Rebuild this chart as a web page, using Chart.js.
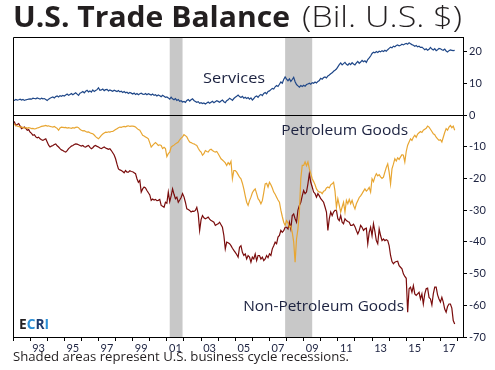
<!DOCTYPE html>
<html>
<head>
<meta charset="utf-8">
<script src="https://cdn.jsdelivr.net/npm/chart.js@4.4.1/dist/chart.umd.min.js"></script>
<style>
  body { margin: 0; background: #fff; }
  #wrap { position: relative; width: 495px; height: 370px; overflow: hidden; }
  .t { position: absolute; top: 0px; font-family: "Open Sans", sans-serif; font-size: 29px; line-height: 31px; color: #231f20; white-space: nowrap; transform-origin: 0 50%; }
  #t1 { left: 13px; font-weight: 700; }
  #t2 { left: 302px; font-weight: 300; }
  #note { position: absolute; left: 13px; top: 348px; font-family: "Open Sans", sans-serif; font-size: 13px; line-height: 17px; color: #231f20; white-space: nowrap; transform-origin: 0 50%; }
  canvas { position: absolute; left: 0; top: 0; }
</style>
</head>
<body>
<div id="wrap">
  <canvas id="mycanvas" width="495" height="370"></canvas>
  <div class="t" id="t1">U.S. Trade Balance</div>
  <div class="t" id="t2">(Bil. U.S. $)</div>
  <div id="note">Shaded areas represent U.S. business cycle recessions.</div>
</div>
<script>
// monthly values, Jan 1992 - Nov 2017, billions of US $
var startYear = 1992;

var services = [
  4.8,4.6,4.9,4.7,4.8,5.0,4.7,4.9,4.6,4.8,4.9,5.0,
  5.1,5.0,5.3,5.2,5.1,5.4,5.2,5.0,5.3,5.1,5.2,4.9,
  4.6,5.0,5.3,5.5,5.7,5.4,5.8,6.0,5.7,6.1,5.9,6.2,
  6.0,6.3,6.6,6.2,6.5,6.8,6.4,6.7,7.0,6.6,6.2,6.9,
  7.1,7.4,7.0,7.5,7.8,7.3,7.6,7.2,7.9,7.4,7.7,8.0,
  8.6,7.8,7.9,8.2,7.7,8.0,8.1,7.6,7.9,7.7,7.5,7.8,
  7.6,7.4,7.7,7.3,7.5,7.1,7.4,7.0,7.2,6.8,7.1,6.9,
  6.6,6.9,6.5,6.8,6.4,6.7,6.9,6.6,6.5,6.8,6.4,6.7,
  6.5,6.3,6.6,6.2,6.4,6.0,6.3,6.1,5.8,6.2,5.9,5.6,
  5.7,5.4,5.0,5.6,5.1,4.8,5.2,4.6,4.9,4.3,4.5,4.1,
  4.3,4.0,4.6,4.9,4.4,4.8,5.1,4.6,4.3,4.0,4.2,3.7,
  3.9,3.6,3.8,3.5,3.8,4.1,3.7,4.0,4.3,3.9,4.2,4.5,
  4.3,4.0,4.4,4.7,4.2,3.9,4.5,4.8,5.3,5.0,4.6,5.2,
  5.6,5.9,6.3,5.8,5.5,5.9,5.3,5.6,5.2,5.5,5.0,5.4,
  4.7,5.2,5.8,6.0,5.6,6.2,6.5,6.1,6.8,7.1,6.7,7.4,
  7.6,8.0,8.4,8.2,8.9,9.3,9.0,9.7,10.4,10.0,11.2,12.0,
  11.3,10.8,11.4,10.6,11.2,11.9,10.5,9.6,9.2,8.8,9.3,9.0,
  9.4,9.1,9.6,9.8,10.0,9.7,10.2,10.0,10.4,10.1,10.6,10.9,
  11.6,11.3,11.8,12.0,11.7,12.3,12.6,13.0,13.3,13.8,14.1,14.5,
  15.2,15.9,16.4,15.8,16.2,16.6,16.0,15.7,16.3,15.9,16.5,16.1,
  15.8,16.4,16.9,16.3,16.7,17.2,16.8,17.1,16.6,17.5,18.0,18.6,
  19.4,19.8,19.6,20.0,19.7,20.1,19.9,20.3,20.0,20.4,20.1,20.6,
  21.0,21.4,21.2,21.7,21.5,21.9,22.1,21.8,22.0,22.3,22.1,22.4,
  22.6,22.3,22.8,22.5,22.2,22.0,21.7,21.9,21.5,21.7,21.3,21.4,
  21.0,20.6,20.9,20.4,20.7,21.3,20.8,20.5,20.9,20.3,20.6,21.0,
  20.9,20.6,20.4,20.8,20.2,19.9,20.3,20.5,20.4,20.3,20.4
];

var petroleum = [
  -2.7,-3.0,-3.3,-3.5,-3.6,-3.8,-3.7,-4.0,-4.1,-3.9,-4.2,-4.0,
  -4.1,-4.3,-4.2,-4.4,-4.3,-4.1,-4.0,-3.8,-3.6,-3.5,-3.4,-3.3,
  -3.5,-3.4,-3.6,-3.7,-3.8,-3.6,-3.9,-4.2,-4.8,-4.1,-3.8,-3.9,
  -4.0,-3.9,-4.1,-4.0,-4.1,-4.2,-4.0,-4.1,-3.9,-3.8,-4.0,-4.5,
  -4.8,-5.0,-4.9,-5.2,-5.4,-5.3,-5.6,-5.8,-5.9,-6.3,-6.8,-7.2,
  -7.5,-7.0,-6.4,-6.0,-5.7,-5.4,-5.5,-5.3,-5.4,-5.2,-5.2,-4.9,
  -4.6,-4.3,-4.0,-3.8,-3.9,-3.7,-3.6,-3.7,-3.5,-3.4,-3.6,-3.5,
  -3.5,-3.6,-3.8,-4.2,-4.6,-4.8,-5.6,-6.4,-6.6,-6.9,-7.2,-7.5,
  -8.8,-10.1,-9.6,-9.1,-8.7,-9.1,-9.6,-9.4,-9.6,-10.6,-10.2,-10.6,
  -13.1,-12.2,-11.7,-10.1,-9.8,-9.5,-9.1,-8.8,-8.5,-7.8,-7.3,-6.9,
  -6.2,-6.5,-6.9,-7.8,-8.5,-8.7,-9.0,-9.1,-9.4,-9.6,-10.5,-11.2,
  -11.7,-12.7,-12.2,-11.2,-11.5,-11.7,-11.0,-10.8,-11.2,-11.5,-11.7,-11.5,
  -12.2,-13.0,-13.8,-14.2,-14.6,-15.1,-15.9,-15.0,-15.6,-14.6,-20.1,-17.5,
  -17.5,-18.0,-18.8,-19.6,-20.1,-21.5,-23.3,-25.5,-27.5,-28.5,-27.0,-25.9,
  -24.5,-23.8,-23.3,-24.8,-26.4,-27.0,-28.0,-27.0,-24.5,-21.7,-21.5,-22.7,
  -21.2,-22.0,-23.0,-24.3,-25.0,-25.9,-26.8,-27.5,-30.0,-32.0,-33.8,-34.8,
  -33.3,-34.0,-35.4,-35.0,-37.0,-40.0,-46.4,-39.1,-35.9,-30.6,-20.1,-15.9,
  -15.9,-14.8,-16.0,-14.8,-17.0,-18.5,-20.1,-21.0,-22.0,-23.3,-24.0,-24.3,
  -24.3,-24.8,-24.0,-23.8,-23.0,-22.7,-23.0,-22.0,-21.7,-21.2,-24.0,-29.1,
  -26.4,-28.5,-30.6,-29.0,-27.5,-30.6,-26.9,-28.0,-26.6,-28.0,-26.9,-28.5,
  -29.6,-28.0,-27.0,-26.0,-25.5,-24.8,-24.0,-23.3,-24.0,-23.5,-22.8,-24.3,
  -20.1,-21.0,-19.5,-18.5,-19.2,-18.8,-19.5,-20.0,-19.6,-18.0,-16.5,-15.4,
  -18.0,-21.7,-17.0,-15.5,-13.8,-14.5,-13.5,-14.0,-13.2,-12.5,-12.7,-14.8,
  -11.5,-9.5,-8.5,-7.5,-8.0,-7.0,-6.4,-7.0,-6.0,-5.6,-5.2,-5.5,
  -4.8,-4.5,-4.2,-3.5,-3.8,-4.5,-5.2,-5.9,-6.2,-7.0,-7.5,-8.0,
  -7.8,-8.5,-7.0,-5.5,-4.3,-4.8,-3.8,-3.3,-4.0,-3.5,-4.8
];

var nonPetroleum = [
  -2.0,-2.2,-3.3,-3.0,-2.7,-3.5,-4.3,-4.0,-3.8,-4.2,-4.8,-4.6,
  -5.4,-5.8,-6.4,-6.2,-6.9,-7.2,-7.0,-7.5,-7.8,-8.0,-7.7,-7.5,
  -8.5,-9.5,-10.1,-9.8,-9.6,-9.3,-9.1,-9.7,-10.1,-10.6,-11.0,-11.2,
  -11.5,-11.7,-11.2,-10.6,-10.2,-9.8,-9.6,-9.3,-9.1,-9.2,-9.4,-9.6,
  -9.8,-9.6,-10.0,-10.1,-9.8,-9.6,-10.2,-10.6,-10.3,-9.8,-9.6,-9.9,
  -10.1,-10.4,-10.6,-10.3,-10.1,-10.4,-10.6,-10.8,-10.6,-11.2,-11.9,-12.6,
  -13.8,-15.5,-17.0,-17.3,-17.5,-17.8,-18.2,-17.5,-18.0,-18.0,-17.6,-17.8,
  -17.9,-18.2,-18.5,-20.1,-21.2,-20.6,-24.3,-23.3,-22.7,-23.0,-23.8,-24.5,
  -25.2,-26.9,-26.5,-26.8,-26.6,-27.0,-26.9,-26.6,-28.5,-28.8,-29.1,-27.5,
  -27.8,-24.3,-27.3,-25.5,-23.3,-25.0,-26.4,-25.9,-27.5,-26.8,-26.0,-24.8,
  -25.8,-27.5,-29.6,-29.8,-30.1,-30.6,-30.3,-30.4,-30.1,-29.1,-31.2,-36.4,
  -33.0,-31.7,-32.4,-32.7,-32.5,-32.2,-32.8,-33.3,-33.5,-33.8,-34.8,-34.5,
  -34.3,-33.8,-34.6,-35.4,-38.0,-42.2,-40.1,-40.3,-40.6,-41.2,-42.0,-42.7,
  -43.3,-44.0,-44.8,-41.7,-41.2,-43.3,-44.3,-43.8,-45.4,-44.3,-44.8,-46.4,
  -44.8,-45.4,-43.8,-45.9,-44.3,-44.3,-45.4,-44.8,-45.9,-45.4,-44.3,-45.0,
  -43.8,-44.3,-42.2,-41.2,-40.1,-40.6,-38.5,-38.0,-36.4,-37.0,-36.5,-35.4,
  -35.4,-35.9,-33.8,-35.9,-31.7,-31.2,-32.7,-33.8,-30.0,-28.5,-27.5,-25.5,
  -23.8,-24.8,-24.3,-21.7,-18.5,-21.2,-22.7,-24.3,-24.8,-25.9,-24.8,-25.5,
  -26.4,-26.9,-27.5,-29.0,-30.6,-36.4,-32.7,-30.6,-31.7,-30.6,-30.1,-30.1,
  -32.7,-33.3,-31.7,-33.8,-34.3,-32.7,-33.3,-33.6,-33.8,-34.8,-34.8,-34.4,
  -35.2,-36.4,-37.5,-36.4,-34.8,-35.4,-36.4,-35.9,-35.7,-40.6,-37.0,-35.4,
  -38.0,-34.3,-36.7,-39.6,-40.6,-35.9,-38.0,-39.6,-39.1,-39.6,-39.3,-39.6,
  -41.2,-44.3,-46.2,-46.9,-46.4,-46.2,-46.1,-47.5,-48.0,-48.5,-50.1,-50.9,
  -51.5,-62.2,-54.8,-54.3,-55.9,-53.8,-56.4,-56.9,-56.4,-55.9,-58.0,-56.4,
  -59.6,-56.4,-54.8,-54.6,-57.5,-58.0,-59.9,-56.4,-54.3,-54.3,-56.7,-58.0,
  -59.0,-57.5,-59.0,-61.2,-62.2,-60.4,-59.6,-59.6,-60.9,-64.8,-65.9
];

// business cycle recessions (peak month start, trough month end)
var recessions = [[2001 + 2/12, 2001 + 11/12], [2007 + 11/12, 2009 + 6/12]];

function toPoints(arr) {
  var pts = [];
  for (var i in arr) {
    pts.push({x: startYear + i / 12, y: arr[i]});
  }
  return pts;
}

// the original face is wider than anything installed, so stretch a bit
function fitWidth(el, target) {
  var w = el.getBoundingClientRect().width;
  el.style.transform = 'scaleX(' + (target / w) + ')';
}
fitWidth(document.getElementById('t1'), 277);
fitWidth(document.getElementById('t2'), 160);
fitWidth(document.getElementById('note'), 336);

function drawFit(c, text, x, y, target, colors) {
  var w = c.measureText(text).width;
  c.save();
  c.translate(x, y);
  c.scale(target / w, 1);
  var cx = 0;
  for (var i = 0; i < text.length; i++) {
    if (colors) c.fillStyle = colors[i];
    c.fillText(text[i], cx, 0);
    cx += c.measureText(text[i]).width;
  }
  c.restore();
}

var txt = '#1c2240';

var extras = {
  id: 'extras',
  beforeDraw: function(chart) {
    var c = chart.ctx, a = chart.chartArea, xs = chart.scales.x;
    c.save();
    c.fillStyle = '#c8c8c8';
    recessions.forEach(function(r) {
      var x0 = xs.getPixelForValue(r[0]), x1 = xs.getPixelForValue(r[1]);
      c.fillRect(x0, a.top, x1 - x0, a.bottom - a.top);
    });
    c.restore();
  },
  afterDraw: function(chart) {
    var c = chart.ctx, a = chart.chartArea, xs = chart.scales.x, ys = chart.scales.y;
    c.save();
    // box round the plot
    c.strokeStyle = '#000';
    c.lineWidth = 1;
    c.beginPath();
    c.moveTo(a.left + 0.5, a.bottom);
    c.lineTo(a.left + 0.5, a.top + 0.5);
    c.lineTo(a.right, a.top + 0.5);
    c.stroke();
    // series names
    c.fillStyle = txt;
    c.font = '500 15px "Open Sans", sans-serif';
    c.textBaseline = 'middle';
    drawFit(c, 'Services', xs.getPixelForValue(2003.12), ys.getPixelForValue(11.5), 62);
    drawFit(c, 'Petroleum Goods', xs.getPixelForValue(2007.69), ys.getPixelForValue(-5.05), 127);
    drawFit(c, 'Non-Petroleum Goods', xs.getPixelForValue(2005.46), ys.getPixelForValue(-60.46), 161);
    // logo
    c.font = 'bold 14px "Open Sans", sans-serif';
    drawFit(c, 'ECRI', a.left + 6, a.bottom - 12, 30, ['#231f20', '#2b8fd8', '#1d3a6e', '#2b8fd8']);
    c.restore();
  }
};

var ctx = document.getElementById('mycanvas');

var chart = new Chart(ctx, {
  type: 'line',
  data: {
    datasets: [
      { label: 'Services', data: toPoints(services), borderColor: '#1f4788' },
      { label: 'Petroleum Goods', data: toPoints(petroleum), borderColor: '#e8a632' },
      { label: 'Non-Petroleum Goods', data: toPoints(nonPetroleum), borderColor: '#7a0c0c' }
    ]
  },
  options: {
    responsive: false,
    animation: false,
    devicePixelRatio: 1,
    layout: { padding: { top: 37, left: 13, right: 0, bottom: 13 } },
    elements: { point: { radius: 0 }, line: { borderWidth: 1.2, tension: 0 } },
    plugins: { legend: { display: false }, tooltip: { enabled: false } },
    scales: {
      x: {
        type: 'linear',
        min: 1992,
        max: 2018.32,
        afterFit: function(s) { s.height = 20; },
        grid: { drawOnChartArea: false, drawTicks: true, tickLength: 4, color: '#000' },
        border: { color: '#000', width: 1 },
        ticks: {
          stepSize: 1, autoSkip: false, maxRotation: 0, includeBounds: false,
          labelOffset: 8.5, padding: 1, color: txt,
          font: { family: 'Lato, sans-serif', size: 11 },
          callback: function(v) {
            v = Math.round(v);
            return v % 2 === 1 ? String(v).slice(2) : '';
          }
        }
      },
      y: {
        position: 'right',
        min: -70,
        max: 24.6,
        afterFit: function(s) { s.width = 32; },
        grid: {
          color: function(c) { return c.tick && c.tick.value === 0 ? '#000' : 'rgba(0,0,0,0)'; },
          tickColor: '#000', tickLength: 4
        },
        border: { color: '#000', width: 1 },
        ticks: {
          stepSize: 10, includeBounds: false, padding: 2, color: txt,
          font: { family: 'Lato, sans-serif', size: 11 }
        }
      }
    }
  },
  plugins: [extras]
});
</script>
</body>
</html>
